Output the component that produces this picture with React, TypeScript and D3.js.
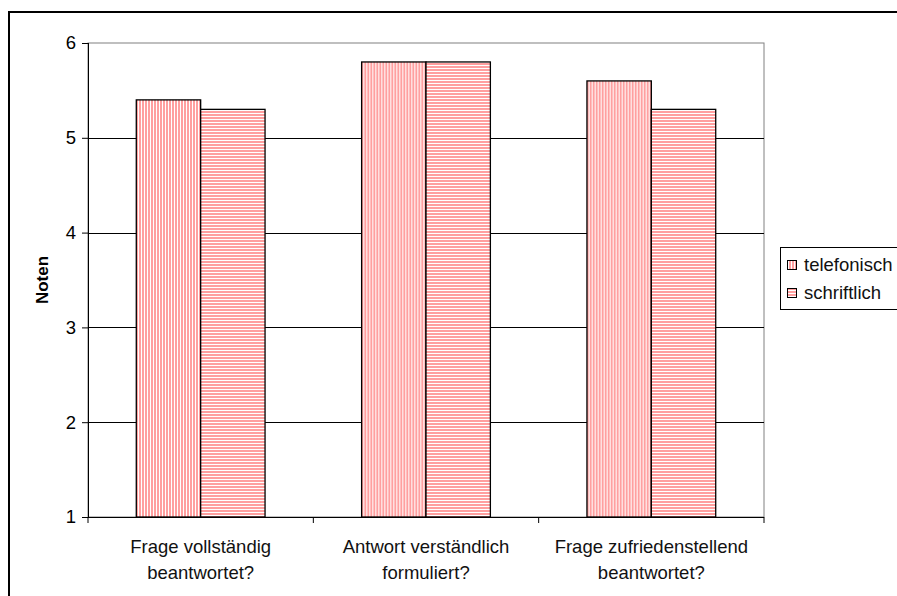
import React, { useRef, useEffect } from "react";
import * as d3 from "d3";

const categories = [
  ["Frage vollständig", "beantwortet?"],
  ["Antwort verständlich", "formuliert?"],
  ["Frage zufriedenstellend", "beantwortet?"],
];
const seriesNames = ["telefonisch", "schriftlich"];
const telefonisch = [5.4, 5.8, 5.6];
const schriftlich = [5.3, 5.8, 5.3];
const yTicks = [1, 2, 3, 4, 5, 6];

const App = () => {
  const ref = useRef<SVGSVGElement>(null);

  useEffect(() => {
    if (!ref.current) return;
    const svg = d3.select(ref.current);
    svg.selectAll("*").remove();

    const left = 88, right = 764, top = 43, bottom = 517;
    const font = "'Liberation Sans', Arial, sans-serif";
    const fs = 18.5;

    // stripe patterns
    const defs = svg.append("defs");
    const vert = defs.append("pattern").attr("id", "vstripe")
      .attr("patternUnits", "userSpaceOnUse").attr("width", 3).attr("height", 3);
    vert.append("rect").attr("width", 3).attr("height", 3).attr("fill", "#fff");
    vert.append("rect").attr("width", 2).attr("height", 3).attr("fill", "#ff9f9f");
    const hor = defs.append("pattern").attr("id", "hstripe")
      .attr("patternUnits", "userSpaceOnUse").attr("width", 3).attr("height", 3);
    hor.append("rect").attr("width", 3).attr("height", 3).attr("fill", "#fff");
    hor.append("rect").attr("width", 3).attr("height", 2).attr("fill", "#ff9f9f");
    const fills = ["url(#vstripe)", "url(#hstripe)"];

    // outer frame
    svg.append("rect").attr("x", 9).attr("y", 12).attr("width", 900).attr("height", 600)
      .attr("fill", "#fff").attr("stroke", "#000").attr("stroke-width", 2);

    const x = d3.scaleBand().domain(d3.range(categories.length).map(String))
      .range([left, right]);
    const xs = d3.scaleBand().domain(seriesNames).range([0, x.bandwidth()])
      .paddingOuter(0.75).paddingInner(0);
    const y = d3.scaleLinear().domain([1, 6]).range([bottom, top]);

    // plot border
    svg.append("rect").attr("x", left).attr("y", top)
      .attr("width", right - left).attr("height", bottom - top)
      .attr("fill", "none").attr("stroke", "#808080").attr("stroke-width", 1);

    // gridlines
    svg.append("g").selectAll("line").data(yTicks.slice(1, -1)).join("line")
      .attr("x1", left).attr("x2", right)
      .attr("y1", (d) => Math.round(y(d)) + 0.5).attr("y2", (d) => Math.round(y(d)) + 0.5)
      .attr("stroke", "#000");

    // bars
    const data = categories.map((c, i) => ({ i, vals: [telefonisch[i], schriftlich[i]] }));
    svg.append("g").selectAll("g").data(data).join("g")
      .attr("transform", (d) => `translate(${x(String(d.i))},0)`)
      .selectAll("rect")
      .data((d) => d.vals.map((v, k) => ({ v, k })))
      .join("rect")
      .attr("x", (d) => xs(seriesNames[d.k])!)
      .attr("y", (d) => y(d.v))
      .attr("width", xs.bandwidth())
      .attr("height", (d) => bottom - y(d.v))
      .attr("fill", (d) => fills[d.k])
      .attr("stroke", "#000").attr("stroke-width", 1.3);

    // y axis
    const yAxis = svg.append("g").attr("transform", `translate(${left},0)`)
      .call(d3.axisLeft(y).tickValues(yTicks).tickFormat(d3.format("d")).tickSize(6).tickPadding(6));
    yAxis.attr("font-size", fs).attr("font-family", font);
    yAxis.select(".domain").attr("stroke", "#000").attr("d", `M0.5,${top}V${bottom}`);
    yAxis.selectAll("text").attr("fill", "#000");

    // x axis
    svg.append("line").attr("x1", left).attr("x2", right)
      .attr("y1", bottom + 0.5).attr("y2", bottom + 0.5).attr("stroke", "#000");
    svg.append("g").selectAll("line").data(d3.range(categories.length + 1)).join("line")
      .attr("x1", (d) => left + d * x.step()).attr("x2", (d) => left + d * x.step())
      .attr("y1", bottom).attr("y2", bottom + 6).attr("stroke", "#000");
    const lbl = svg.append("g").selectAll("text").data(categories).join("text")
      .attr("x", (d, i) => x(String(i))! + x.bandwidth() / 2)
      .attr("y", 553)
      .attr("text-anchor", "middle")
      .attr("font-family", font).attr("font-size", fs).attr("fill", "#111");
    lbl.selectAll("tspan").data((d) => d).join("tspan")
      .attr("x", function () { return (this.parentNode as SVGTextElement).getAttribute("x"); })
      .attr("dy", (d, i) => (i === 0 ? 0 : 26))
      .text((d) => d);

    // y title
    svg.append("text").attr("transform", `translate(48,${(top + bottom) / 2}) rotate(-90)`)
      .attr("text-anchor", "middle").attr("font-family", font)
      .attr("font-size", 17).attr("font-weight", "bold").text("Noten");

    // legend
    const lg = svg.append("g");
    lg.append("rect").attr("x", 780.5).attr("y", 247.5).attr("width", 130).attr("height", 62)
      .attr("fill", "#fff").attr("stroke", "#000");
    seriesNames.forEach((s, k) => {
      const cy = 265 + k * 28;
      lg.append("rect").attr("x", 787.5).attr("y", cy - 4.5).attr("width", 9).attr("height", 9)
        .attr("fill", fills[k]).attr("stroke", "#000");
      lg.append("text").attr("x", 804).attr("y", cy + 6).attr("font-family", font)
        .attr("font-size", fs).attr("fill", "#111").text(s);
    });
  }, []);

  return (
    <svg ref={ref} width={897} height={596}
      style={{ position: "absolute", left: 0, top: 0, display: "block" }} />
  );
};

export default App;
